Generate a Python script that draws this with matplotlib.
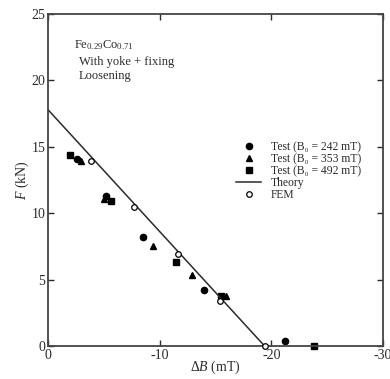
import numpy as np
import matplotlib
matplotlib.use("Agg")
import matplotlib.pyplot as plt

plt.rcParams['font.family'] = ['Liberation Serif', 'DejaVu Serif']
plt.rcParams['mathtext.fontset'] = 'custom'
plt.rcParams['mathtext.rm'] = 'Liberation Serif'
plt.rcParams['mathtext.it'] = 'Liberation Serif:italic'

# data (delta B in mT, F in kN)
b242_x = [-2.6, -5.2, -8.5, -14.0, -21.2]
b242_y = [14.1, 11.3, 8.2, 4.2, 0.4]

b353_x = [-3.0, -5.0, -9.4, -12.9, -15.9]
b353_y = [13.9, 11.1, 7.55, 5.35, 3.8]

b492_x = [-2.0, -5.6, -11.5, -15.5, -23.8]
b492_y = [14.4, 10.9, 6.3, 3.8, 0.0]

fem_x = [-3.85, -7.7, -11.6, -15.4, -19.4]
fem_y = [13.95, 10.45, 6.95, 3.4, 0.0]

theory_x = [0, -19.4]
theory_y = [17.8, 0]

ink = '#2b2b2b'

fig = plt.figure(figsize=(3.9, 3.79), dpi=100)
ax = fig.add_axes([0.123, 0.087, 0.859, 0.876])

ax.plot(b242_x, b242_y, 'o', color='black', ms=4.5, clip_on=False, label='Test (B\u2080 = 242 mT)')
ax.plot(b353_x, b353_y, '^', color='black', ms=4.5, clip_on=False, label='Test (B\u2080 = 353 mT)')
ax.plot(b492_x, b492_y, 's', color='black', ms=4.3, clip_on=False, label='Test (B\u2080 = 492 mT)')
ax.plot(theory_x, theory_y, '-', color=ink, lw=1.1, label='Theory')
ax.plot(fem_x, fem_y, 'o', mfc='white', mec='black', mew=0.9, ms=4, clip_on=False, label='FEM', zorder=4)

ax.set_xlim(0, -30)
ax.set_ylim(0, 25)
ax.set_xticks([0, -10, -20, -30])
ax.set_xticklabels(['0', '-10', '-20', '-30'])
ax.set_yticks([0, 5, 10, 15, 20, 25])
ax.tick_params(direction='in', length=4, width=1, labelsize=10, colors=ink, pad=2,
               top=True, right=True)
for s in ax.spines.values():
    s.set_color('#444444')
    s.set_linewidth(1.3)

ax.set_xlabel('$\\mathit{\\Delta B}$ (mT)', fontsize=10, color=ink, labelpad=-2)
ax.set_ylabel('$\\mathit{F}$ (kN)', fontsize=10, color=ink, labelpad=0)

ax.text(0.078, 0.907, 'Fe$_{0.29}$Co$_{0.71}$', transform=ax.transAxes, fontsize=9,
        color=ink, va='center')
ax.text(0.093, 0.855, 'With yoke + fixing', transform=ax.transAxes, fontsize=9,
        color=ink, va='center')
ax.text(0.093, 0.813, 'Loosening', transform=ax.transAxes, fontsize=9,
        color=ink, va='center')

ax.legend(loc='upper left', bbox_to_anchor=(0.545, 0.635), frameon=False, fontsize=8.4,
          handlelength=2.1, labelspacing=0.0, handletextpad=0.85, borderpad=0,
          labelcolor=ink)

fig.savefig('out.png', dpi=100)
